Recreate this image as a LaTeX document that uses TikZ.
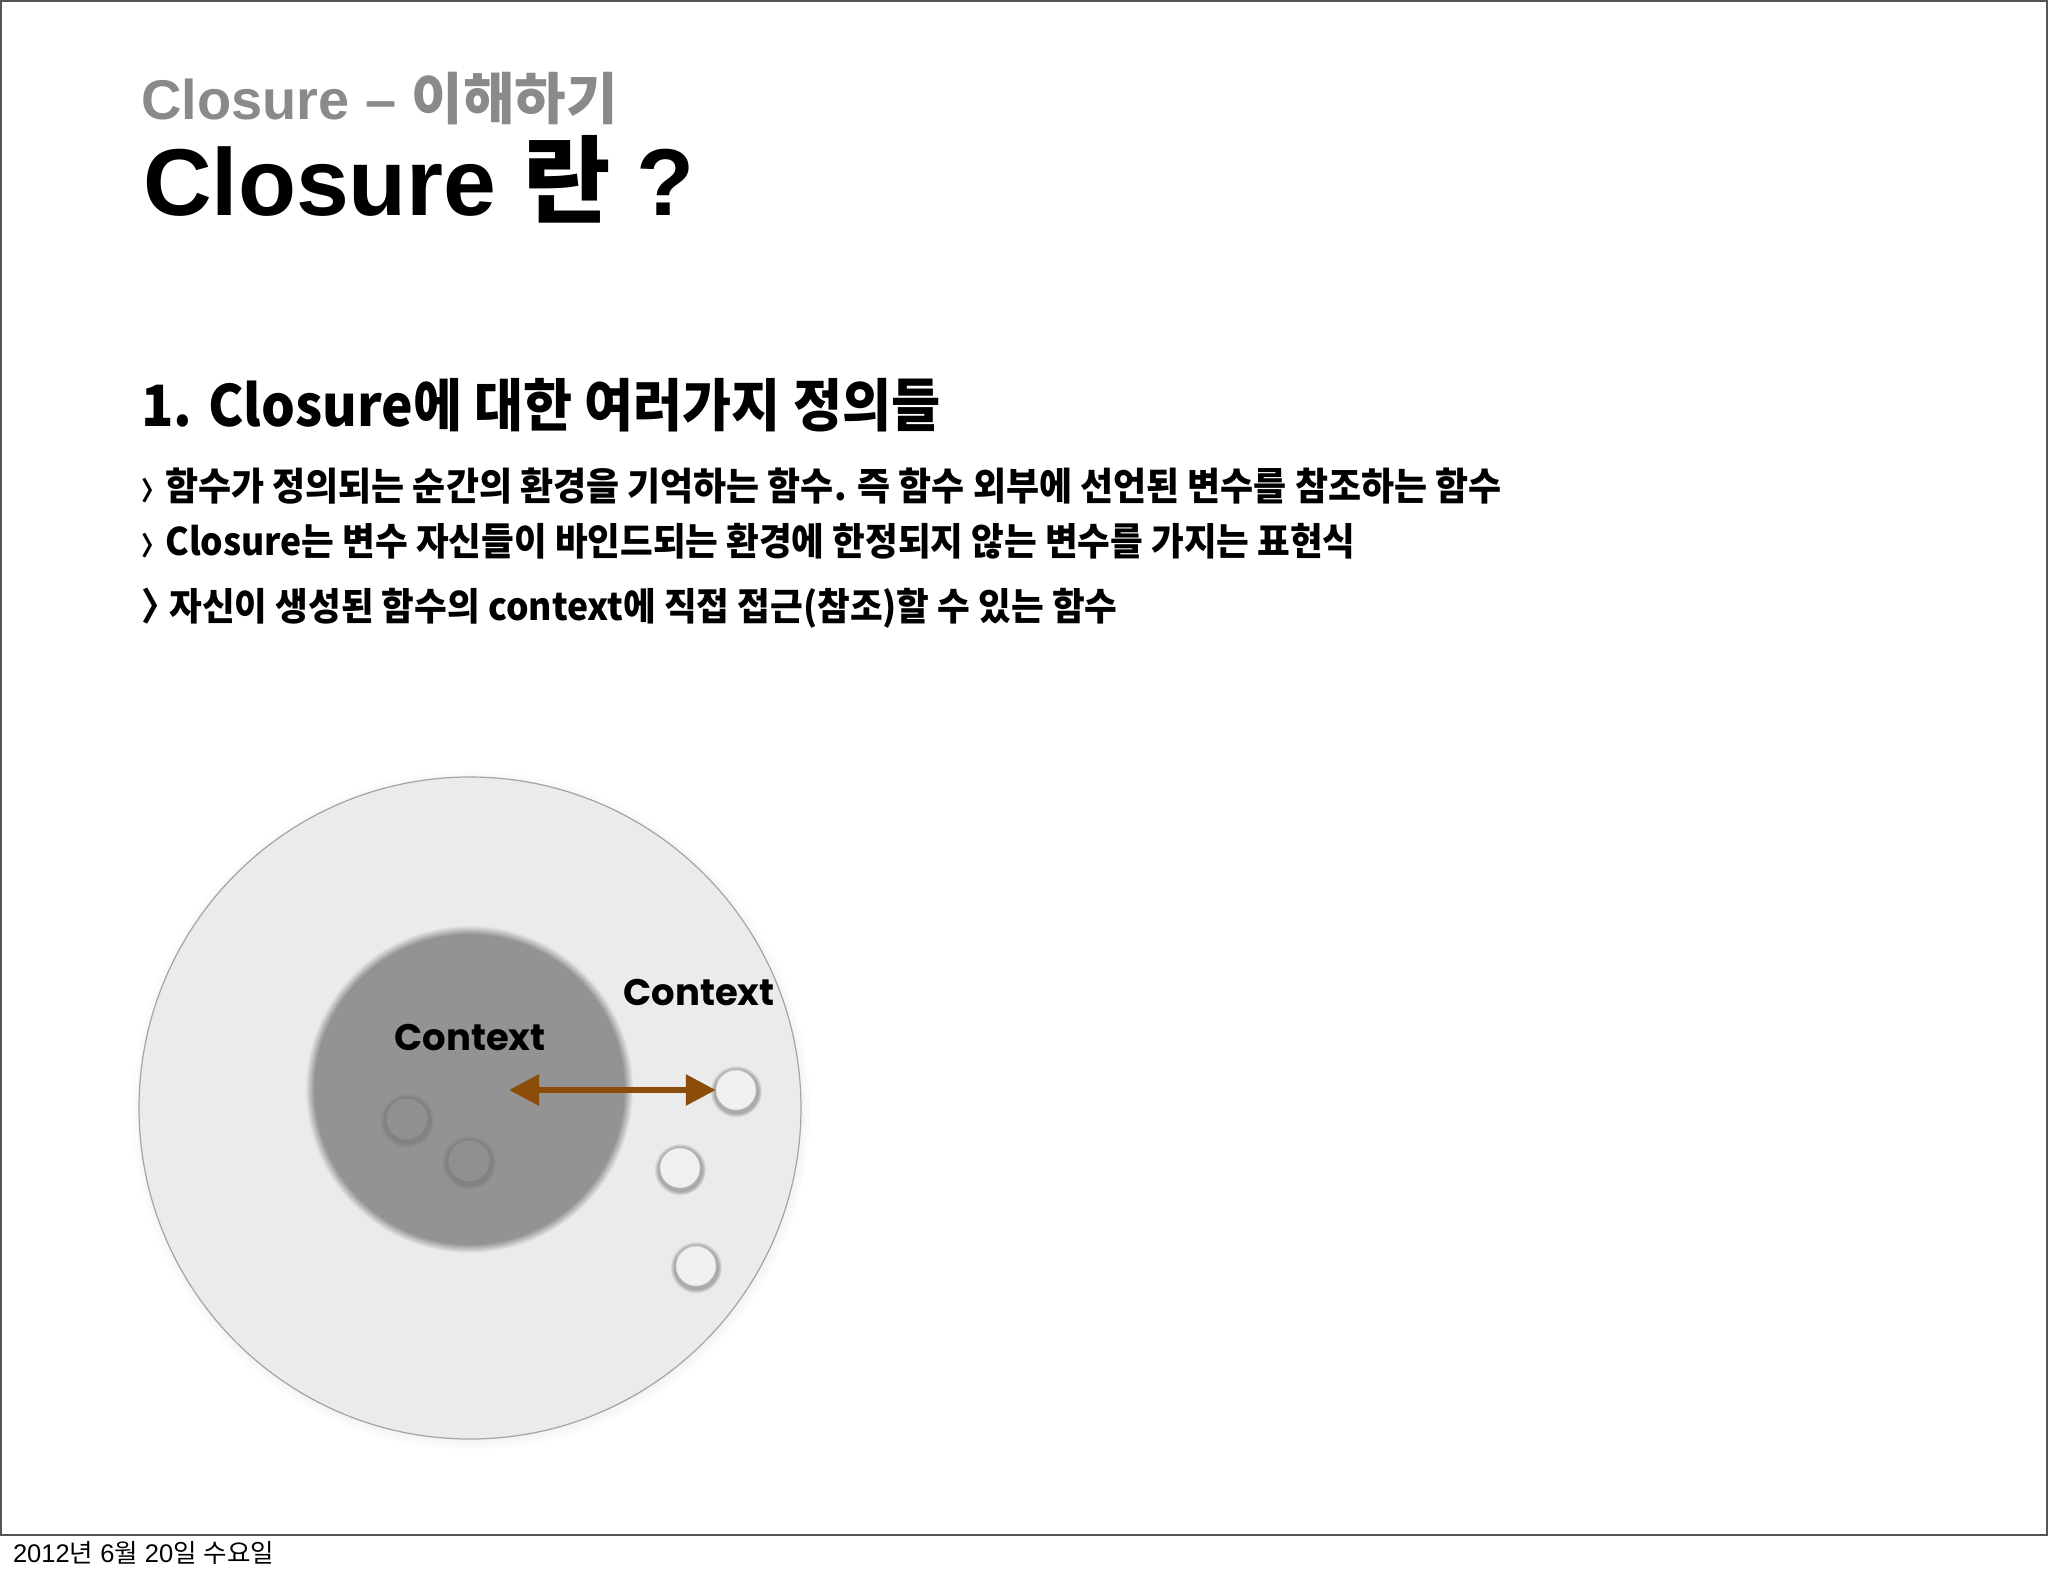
\documentclass[tikz,border=0pt]{standalone}
\usepackage{fontspec}
\setmainfont{Liberation Sans}
\newfontfamily\kr{Noto Sans CJK KR}
\newfontfamily\krc{Noto Sans CJK KR}[FakeStretch=0.935]
\newfontfamily\ctx{Poppins}
\usetikzlibrary{shadows,arrows.meta}
\definecolor{outerfill}{HTML}{EBEBEB}
\definecolor{outerline}{HTML}{A4A4A4}
\definecolor{innerfill}{HTML}{939393}
\definecolor{arrowbrown}{HTML}{8C4C0A}
\definecolor{titlegray}{HTML}{8A8A8A}
\definecolor{framegray}{HTML}{555555}
\definecolor{whitedot}{HTML}{F0F0F0}
\definecolor{darkdot}{HTML}{909090}
\pgfdeclareradialshading{softdisk}{\pgfpoint{0bp}{0bp}}{color(0bp)=(innerfill); color(23.6bp)=(innerfill); color(25bp)=(outerfill); color(50bp)=(outerfill)}
\tikzset{
  txt/.style={anchor=base west, inner sep=0pt, outer sep=0pt},
  bigdisc/.style={circle, inner sep=0pt, fill=outerfill, draw=outerline, line width=1.2pt,
     circular drop shadow={shadow xshift=1pt, shadow yshift=-2pt, shadow scale=1.025, opacity=0.4}},
  whitedotst/.style={circle, inner sep=0pt, minimum size=40pt, fill=whitedot, draw=black!20, line width=0.5pt,
     circular drop shadow={shadow xshift=0pt, shadow yshift=-1pt, shadow scale=1.3, opacity=0.6}},
  darkdotst/.style={circle, inner sep=0pt, minimum size=42pt, fill=darkdot, draw=black!50, line width=0.6pt,
     circular drop shadow={shadow xshift=0pt, shadow yshift=-1pt, shadow scale=1.3, opacity=0.85}},
  ctxlabel/.style={inner sep=0pt, font=\ctx\bfseries\fontsize{37}{40}\selectfont},
}
\begin{document}
\begin{tikzpicture}[x=1pt,y=-1pt]
\useasboundingbox (0,0) rectangle (2048,1576);
\fill[white] (0,0) rectangle (2048,1576);
\draw[framegray, line width=2pt] (1,1) rectangle (2047,1535);
% titles
\node[txt, text=titlegray] (t1) at (141,120) {\bfseries\fontsize{56}{60}\selectfont Closure – {\kr 이해하기}};
\node[txt] (t2) at (143,215) {\bfseries\fontsize{95}{100}\selectfont Closure {\kr 란} ?};
% heading
\node[txt] (h1) at (141,426) {\krc\bfseries\fontsize{57}{60}\selectfont 1. Closure에 대한 여러가지 정의들};
\node[txt] (b1) at (141,500) {\krc\bfseries\fontsize{38.4}{40}\selectfont {\fontsize{26}{30}\selectfont 〉}함수가 정의되는 순간의 환경을 기억하는 함수. 즉 함수 외부에 선언된 변수를 참조하는 함수};
\node[txt] (b2) at (141,555) {\krc\bfseries\fontsize{38}{40}\selectfont {\fontsize{26}{30}\selectfont 〉}Closure는 변수 자신들이 바인드되는 환경에 한정되지 않는 변수를 가지는 표현식};
\node[txt] (b3) at (141,620) {\krc\bfseries\fontsize{38}{40}\selectfont 〉\hspace{-7pt}자신이 생성된 함수의 context에 직접 접근(참조)할 수 있는 함수};
% diagram
\node[bigdisc, minimum size=662pt] (outer) at (470,1108) {};
\shade[shading=softdisk] (469,1089) circle (164);
\node[circle, inner sep=0pt, minimum size=316pt] (inner) at (469,1089) {};
\node[darkdotst] (d1) at (407,1119) {};
\node[darkdotst] (d2) at (469,1161) {};
\node[whitedotst] (w1) at (736,1090) {};
\node[whitedotst] (w2) at (680,1168) {};
\node[whitedotst] (w3) at (696,1266) {};
\node[ctxlabel] (c1) at (470,1038) {Context};
\node[ctxlabel] (c2) at (699,993) {Context};
\coordinate (astart) at (509,1090);
\draw[arrowbrown, line width=6pt, {Triangle[length=30pt,width=30pt]}-{Triangle[length=30pt,width=30pt]}] (astart) -- (w1.west);
% footer
\node[txt] (foot) at (13,1562) {\fontsize{25.5}{28}\selectfont 2012{\kr 년} 6{\kr 월} 20{\kr 일} {\kr 수요일}};
\end{tikzpicture}
\end{document}
